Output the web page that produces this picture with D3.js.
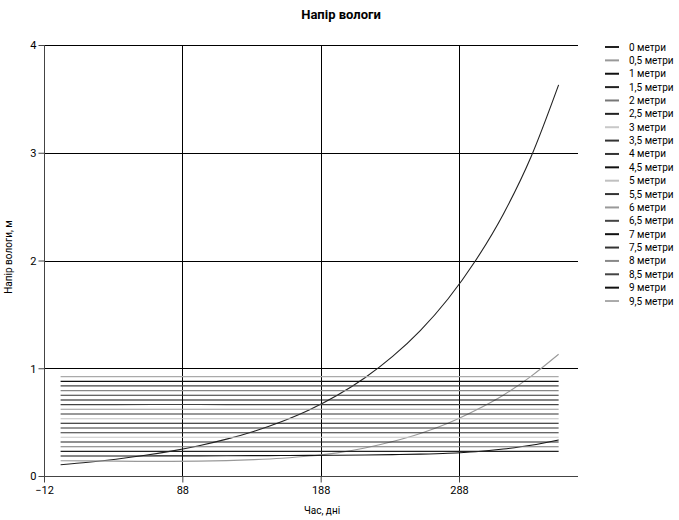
<!DOCTYPE html>
<html><head><meta charset="utf-8">
<script src="https://cdn.jsdelivr.net/npm/d3@7"></script>
<style>
body{margin:0;background:#fff;}
text{font-family:"Liberation Sans Narrow","Roboto","Liberation Sans",sans-serif;}
</style></head>
<body><svg id="c" width="679" height="520"></svg>
<script>
const title = "Напір вологи";
const xTitle = "Час, дні";
const yTitle = "Напір вологи, м";
const xTicks = [-12, 88, 188, 288];
const yTicks = [0, 1, 2, 3, 4];
const seriesNames = ["0 метри","0,5 метри","1 метри","1,5 метри","2 метри","2,5 метри","3 метри","3,5 метри","4 метри","4,5 метри","5 метри","5,5 метри","6 метри","6,5 метри","7 метри","7,5 метри","8 метри","8,5 метри","9 метри","9,5 метри"];
const seriesColors = ["#222","#999","#111","#222","#777","#222","#c8c8c8","#333","#333","#111","#c0c0c0","#333","#999","#444","#111","#333","#888","#444","#111","#aaa"];
// curve series (days every 20)
const curveDays = [0,20,40,60,80,100,120,140,160,180,200,220,240,260,280,300,320,340,360];
const s0 = [0.105,0.128,0.156,0.19,0.231,0.281,0.342,0.416,0.506,0.615,0.749,0.912,1.11,1.35,1.643,2.0,2.43,2.96,3.63];
const s05 = [0.142,0.140,0.138,0.136,0.136,0.138,0.143,0.152,0.165,0.185,0.215,0.26,0.32,0.395,0.49,0.61,0.75,0.925,1.13];
const s1 = [0.186,0.186,0.186,0.186,0.187,0.187,0.188,0.189,0.190,0.191,0.193,0.195,0.198,0.203,0.211,0.225,0.25,0.285,0.335];
// flat series (days every 40)
const flatDays = [0,40,80,120,160,200,240,280,320,360];
const s15 = [0.229,0.229,0.229,0.229,0.229,0.229,0.229,0.229,0.229,0.229];
const s2  = [0.272,0.272,0.272,0.272,0.272,0.272,0.272,0.272,0.272,0.272];
const s25 = [0.316,0.316,0.316,0.316,0.316,0.316,0.316,0.316,0.316,0.316];
const s3  = [0.359,0.359,0.359,0.359,0.359,0.359,0.359,0.359,0.359,0.359];
const s35 = [0.402,0.402,0.402,0.402,0.402,0.402,0.402,0.402,0.402,0.402];
const s4  = [0.445,0.445,0.445,0.445,0.445,0.445,0.445,0.445,0.445,0.445];
const s45 = [0.489,0.489,0.489,0.489,0.489,0.489,0.489,0.489,0.489,0.489];
const s5  = [0.532,0.532,0.532,0.532,0.532,0.532,0.532,0.532,0.532,0.532];
const s55 = [0.576,0.576,0.576,0.576,0.576,0.576,0.576,0.576,0.576,0.576];
const s6  = [0.619,0.619,0.619,0.619,0.619,0.619,0.619,0.619,0.619,0.619];
const s65 = [0.662,0.662,0.664,0.662,0.662,0.662,0.662,0.662,0.662,0.662];
const s7  = [0.706,0.706,0.706,0.706,0.706,0.706,0.706,0.706,0.706,0.706];
const s75 = [0.750,0.750,0.750,0.750,0.750,0.750,0.750,0.750,0.750,0.750];
const s8  = [0.792,0.792,0.792,0.792,0.792,0.792,0.792,0.792,0.792,0.792];
const s85 = [0.836,0.836,0.836,0.836,0.836,0.836,0.836,0.836,0.836,0.836];
const s9  = [0.878,0.878,0.878,0.878,0.878,0.878,0.878,0.878,0.878,0.878];
const s95 = [0.922,0.922,0.922,0.922,0.922,0.922,0.922,0.922,0.922,0.922];

const seriesData = [
  [curveDays,s0],[curveDays,s05],[curveDays,s1],
  [flatDays,s15],[flatDays,s2],[flatDays,s25],[flatDays,s3],[flatDays,s35],[flatDays,s4],[flatDays,s45],
  [flatDays,s5],[flatDays,s55],[flatDays,s6],[flatDays,s65],[flatDays,s7],[flatDays,s75],[flatDays,s8],
  [flatDays,s85],[flatDays,s9],[flatDays,s95]
];

const svg = d3.select("#c");
const L = 44, R = 578, T = 45, B = 476;
const x = d3.scaleLinear().domain([-12, 374]).range([L, R]);
const y = d3.scaleLinear().domain([0, 4]).range([B, T]);

// title
svg.append("text").attr("x", 341).attr("y", 19).attr("text-anchor","middle")
  .attr("font-size", 13).attr("font-weight","bold").text(title);

// grid
const g = svg.append("g");
g.selectAll(".hg").data(yTicks.filter(d=>d>0)).enter().append("line")
  .attr("x1", L).attr("x2", R).attr("y1", d=>Math.round(y(d))+0.5).attr("y2", d=>Math.round(y(d))+0.5)
  .attr("stroke","#000").attr("stroke-width",1);
g.selectAll(".vg").data(xTicks.filter(d=>d>-12)).enter().append("line")
  .attr("x1", d=>Math.round(x(d))+0.5).attr("x2", d=>Math.round(x(d))+0.5).attr("y1", T).attr("y2", B)
  .attr("stroke","#000").attr("stroke-width",1);

// axes
const yAxis = d3.axisLeft(y).tickValues(yTicks).tickSize(6).tickFormat(d3.format("d"));
const ya = svg.append("g").attr("transform",`translate(${L+0.5},0)`).call(yAxis);
const xAxis = d3.axisBottom(x).tickValues(xTicks).tickSize(6).tickFormat(d3.format("d"));
const xa = svg.append("g").attr("transform",`translate(0,${B+0.5})`).call(xAxis);
[ya, xa].forEach(a=>{
  a.select(".domain").remove();
  a.selectAll("line").attr("stroke","#444");
  a.selectAll("text").attr("font-size",11).attr("fill","#000")
    .style("font-family",'"Liberation Sans Narrow","Roboto","Liberation Sans",sans-serif');
});
ya.selectAll("text").attr("x",-8).attr("dy","0.35em");
xa.selectAll("text").attr("y",10);
svg.append("line").attr("x1",L+0.5).attr("x2",L+0.5).attr("y1",T).attr("y2",B+0.5).attr("stroke","#444");
svg.append("line").attr("x1",L).attr("x2",R).attr("y1",B+0.5).attr("y2",B+0.5).attr("stroke","#444");

// lines
const line = d3.line().x(d=>x(d[0])).y(d=>y(d[1]));
const lg = svg.append("g");
seriesData.forEach((sd,i)=>{
  const pts = sd[0].map((dd,j)=>[dd, sd[1][j]]);
  lg.append("path").attr("d", line.curve(d3.curveMonotoneX)(pts))
    .attr("fill","none").attr("stroke", seriesColors[i]).attr("stroke-width",1.1);
});

// axis titles
svg.append("text").attr("x", 322).attr("y", 514).attr("text-anchor","middle")
  .attr("font-size",10).text(xTitle);
svg.append("text").attr("transform","translate(12,257) rotate(-90)").attr("text-anchor","middle")
  .attr("font-size",10).text(yTitle);

// legend
const leg = svg.append("g");
seriesNames.forEach((n,i)=>{
  const yy = 47 + i*13.37;
  leg.append("line").attr("x1",605).attr("x2",619).attr("y1",yy).attr("y2",yy)
    .attr("stroke",seriesColors[i]).attr("stroke-width",2);
  leg.append("text").attr("x",629).attr("y",yy).attr("dy","0.35em").attr("font-size",10).text(n);
});
</script></body></html>
